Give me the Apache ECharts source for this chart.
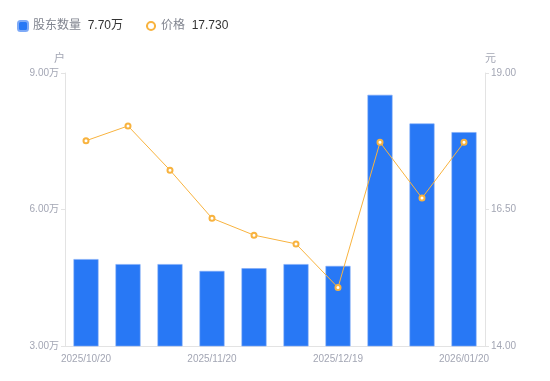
<!DOCTYPE html>
<html><head><meta charset="utf-8">
<script src="https://cdn.jsdelivr.net/npm/echarts@6/dist/echarts.min.js"></script>
<style>html,body{margin:0;padding:0;background:#fff}#c{width:550px;height:381px}</style>
</head><body><div id="c"></div>
<script>
const categories = ['2025/10/20','2025/10/31','2025/11/10','2025/11/20','2025/11/28','2025/12/10','2025/12/19','2025/12/31','2026/01/09','2026/01/20'];
const holders = [4.91, 4.80, 4.80, 4.65, 4.71, 4.80, 4.76, 8.52, 7.89, 7.70];
const prices = [17.76, 18.03, 17.22, 16.34, 16.03, 15.87, 15.07, 17.73, 16.71, 17.73];
const leftTicks = {min: 3, max: 9, interval: 3};
const rightTicks = {min: 14, max: 19, interval: 2.5};

const chart = echarts.init(document.getElementById('c'));
const lastH = holders[holders.length-1].toFixed(2) + '万';
const lastP = prices[prices.length-1].toFixed(3);
const FF = '"Liberation Sans", "Noto Sans CJK SC", sans-serif';
chart.setOption({
  animation: false,
  textStyle: {fontFamily: FF},
  legend: {
    left: 12, top: 15, itemWidth: 10, itemHeight: 10, itemGap: 22,
    data: [{name: '股东数量', icon: 'roundRect'}, {name: '价格'}],
    formatter: function(n){ return n === '股东数量' ? '{a|' + n + '}  {b|' + lastH + '}' : '{a|' + n + '}  {b|' + lastP + '}'; },
    textStyle: {fontFamily: FF, rich: {a: {color: '#80848f', fontSize: 12, fontFamily: FF}, b: {color: '#333', fontSize: 12, fontFamily: FF}}}
  },
  grid: {left: 65, right: 65, top: 73, bottom: 35},
  xAxis: {
    type: 'category', data: categories,
    axisLine: {lineStyle: {color: '#e3e3e3'}},
    axisTick: {show: false},
    axisLabel: {interval: 2, color: '#a3a6b4', fontSize: 10, margin: 8, fontFamily: FF}
  },
  yAxis: [{
    type: 'value', name: '户', nameGap: 9, nameTextStyle: {color: '#a3a6b4', fontSize: 11, align: 'right', fontFamily: FF},
    min: leftTicks.min, max: leftTicks.max, interval: leftTicks.interval,
    axisLine: {show: true, lineStyle: {color: '#e3e3e3'}},
    axisTick: {show: true, length: 4, lineStyle: {color: '#e3e3e3'}},
    splitLine: {show: false},
    axisLabel: {color: '#a3a6b4', fontSize: 10, margin: 6, fontFamily: FF, formatter: v => v.toFixed(2) + '万'}
  }, {
    type: 'value', name: '元', nameGap: 9, nameTextStyle: {color: '#a3a6b4', fontSize: 11, align: 'left', fontFamily: FF},
    min: rightTicks.min, max: rightTicks.max, interval: rightTicks.interval,
    axisLine: {show: true, lineStyle: {color: '#e3e3e3'}},
    axisTick: {show: true, length: 4, lineStyle: {color: '#e3e3e3'}},
    splitLine: {show: false},
    axisLabel: {color: '#a3a6b4', fontSize: 10, margin: 6, fontFamily: FF, formatter: v => v.toFixed(2)}
  }],
  series: [{
    name: '股东数量', type: 'bar', data: holders, barWidth: 25,
    itemStyle: {color: '#2878f5', borderColor: '#7eaaf7', borderWidth: 0.6}
  }, {
    name: '价格', type: 'line', yAxisIndex: 1, data: prices,
    symbol: 'emptyCircle', symbolSize: 5,
    lineStyle: {color: '#f8b33f', width: 1},
    itemStyle: {color: '#f8b33f', borderWidth: 2}
  }]
});
</script></body></html>
